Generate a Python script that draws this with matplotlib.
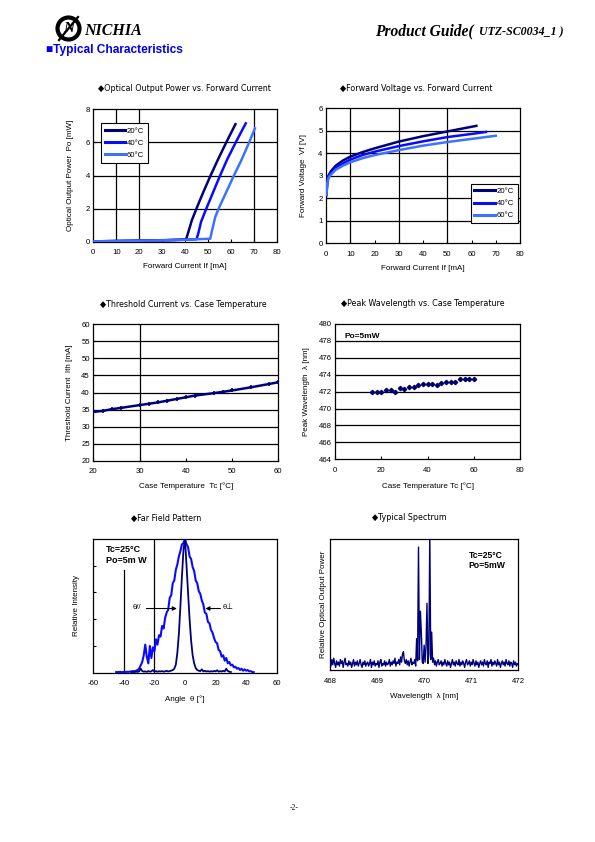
import numpy as np
import matplotlib
matplotlib.use("Agg")
import matplotlib.pyplot as plt
from matplotlib import font_manager as fm
from matplotlib.patches import Ellipse

plt.rcParams['font.family'] = ['Liberation Sans', 'DejaVu Sans']
plt.rcParams['axes.unicode_minus'] = False
condensed = any(f.name == 'DejaVu Sans' and f.stretch == 'condensed' for f in fm.fontManager.ttflist)
if condensed:
    TITLE_KW = dict(family='DejaVu Sans', stretch='condensed', fontsize=6.4)
else:
    TITLE_KW = dict(family=['Liberation Sans', 'DejaVu Sans'], fontsize=6.1)

# ---------------- data ----------------
temp_labels = ['20°C', '40°C', '60°C']
temp_colors = ['#00007a', '#0a0aff', '#3d72ff']

# Optical output power vs forward current
po_if_20 = [0, 10, 20, 30, 38, 40.5, 41.5, 43, 45, 48, 51, 54.5, 58, 62]
po_20 = [0.02, 0.04, 0.06, 0.09, 0.12, 0.15, 0.6, 1.3, 2.0, 3.0, 3.95, 5.0, 6.0, 7.1]
po_if_40 = [0, 10, 20, 30, 40, 45, 45.8, 47, 49, 52, 55, 58.5, 62.5, 66.5]
po_40 = [0.02, 0.04, 0.06, 0.08, 0.12, 0.15, 0.5, 1.2, 1.9, 2.9, 3.9, 5.0, 6.1, 7.15]
po_if_60 = [0, 10, 20, 30, 40, 51, 52, 53.2, 55, 58, 61, 64.5, 68, 70.5]
po_60 = [0.02, 0.04, 0.06, 0.08, 0.12, 0.18, 0.8, 1.5, 2.1, 3.0, 3.9, 4.9, 6.0, 6.85]

# Forward voltage vs forward current
vf_if_20 = [0.2, 0.5, 1, 2, 4, 7, 10, 15, 20, 30, 40, 50, 62]
vf_20 = [2.15, 2.7, 3.0, 3.2, 3.45, 3.68, 3.85, 4.05, 4.22, 4.52, 4.76, 4.97, 5.22]
vf_if_40 = [0.2, 0.5, 1, 2, 4, 7, 10, 15, 20, 30, 40, 50, 60, 66]
vf_40 = [2.15, 2.7, 2.95, 3.12, 3.35, 3.55, 3.72, 3.92, 4.07, 4.32, 4.53, 4.72, 4.86, 4.95]
vf_if_60 = [0.2, 0.5, 1, 2, 4, 7, 10, 15, 20, 30, 40, 50, 60, 70]
vf_60 = [2.15, 2.65, 2.9, 3.05, 3.27, 3.45, 3.6, 3.78, 3.92, 4.14, 4.34, 4.5, 4.64, 4.78]

# Threshold current vs case temperature
ith_tc = [20, 22, 24, 26, 30, 32, 34, 36, 38, 40, 42, 46, 48, 50, 54, 58, 60]
ith = [34.3, 34.6, 35.1, 35.5, 36.3, 36.7, 37.1, 37.6, 38.1, 38.6, 39.1, 39.8, 40.2, 40.6, 41.5, 42.5, 43.0]

# Peak wavelength vs case temperature
wl_tc = [16, 18, 20, 22, 24, 26, 28, 30, 32, 34, 36, 38, 40, 42, 44, 46, 48, 50, 52, 54, 56, 58, 60]
wl_peak = [471.9, 471.9, 471.9, 472.2, 472.2, 471.9, 472.4, 472.3, 472.5, 472.5, 472.75, 472.85,
           472.85, 472.85, 472.8, 473.0, 473.2, 473.2, 473.2, 473.45, 473.5, 473.55, 473.55]

# Far field pattern (1 degree steps)
ffp_perp_start = -45
ffp_perp = [0.005, 0.004, 0.006, 0.005, 0.004, 0.006, 0.005, 0.007, 0.006, 0.008,
            0.01, 0.012, 0.01, 0.015, 0.02, 0.03, 0.055, 0.08, 0.13, 0.21,
            0.12, 0.07, 0.2, 0.11, 0.19, 0.16, 0.25, 0.21, 0.28, 0.27,
            0.35, 0.33, 0.41, 0.45, 0.47, 0.56, 0.58, 0.67, 0.69, 0.77,
            0.81, 0.87, 0.91, 0.96, 0.97, 1.0, 0.96, 0.94, 0.87, 0.85,
            0.79, 0.76, 0.69, 0.67, 0.61, 0.59, 0.54, 0.51, 0.45, 0.44,
            0.38, 0.37, 0.32, 0.3, 0.26, 0.23, 0.22, 0.17, 0.16, 0.12,
            0.13, 0.09, 0.11, 0.07, 0.08, 0.055, 0.06, 0.04, 0.045, 0.03,
            0.035, 0.02, 0.03, 0.015, 0.025, 0.015, 0.02, 0.01, 0.012, 0.005, 0.004]
ffp_par_start = -35
ffp_par = [0.004, 0.006, 0.005, 0.008, 0.006, 0.01, 0.03, 0.012, 0.008, 0.01,
           0.006, 0.012, 0.008, 0.01, 0.02, 0.009, 0.012, 0.007, 0.011, 0.009,
           0.012, 0.008, 0.01, 0.014, 0.009, 0.012, 0.015, 0.02, 0.03, 0.06,
           0.15, 0.29, 0.5, 0.72, 0.92, 1.0, 0.8, 0.6, 0.4, 0.24,
           0.13, 0.07, 0.035, 0.02, 0.015, 0.012, 0.025, 0.01, 0.014, 0.009,
           0.012, 0.008, 0.011, 0.009, 0.013, 0.01, 0.018, 0.008, 0.012, 0.009,
           0.014, 0.01, 0.03, 0.012, 0.008, 0.005]

# Typical spectrum (0.02 nm steps from 468 nm)
spec_start, spec_step = 468.0, 0.02
spec_i = [0.06, 0.03, 0.08, 0.04, 0.09, 0.05, 0.02, 0.07, 0.04, 0.06, 0.03, 0.08, 0.05, 0.07, 0.02, 0.06, 0.09, 0.04, 0.05, 0.03,
          0.07, 0.04, 0.06, 0.02, 0.05, 0.08, 0.03, 0.06, 0.04, 0.07, 0.03, 0.05, 0.08, 0.04, 0.02, 0.06, 0.04, 0.07, 0.03, 0.05,
          0.06, 0.03, 0.05, 0.08, 0.02, 0.06, 0.04, 0.07, 0.03, 0.05, 0.04, 0.07, 0.02, 0.06, 0.08, 0.03, 0.05, 0.04, 0.07, 0.03,
          0.06, 0.04, 0.05, 0.08, 0.03, 0.06, 0.04, 0.07, 0.05, 0.09, 0.03, 0.06, 0.05, 0.08, 0.04, 0.10, 0.06, 0.12, 0.14, 0.07,
          0.05, 0.08, 0.04, 0.07, 0.03, 0.06, 0.09, 0.04, 0.06, 0.05, 0.08, 0.03, 0.24, 0.07, 0.94, 0.08, 0.45, 0.29, 0.06, 0.05,
          0.19, 0.06, 0.18, 0.51, 0.05, 0.12, 1.05, 0.08, 0.29, 0.06, 0.09, 0.04, 0.07, 0.03, 0.06, 0.08, 0.04, 0.05, 0.07, 0.03,
          0.06, 0.04, 0.08, 0.05, 0.03, 0.07, 0.04, 0.06, 0.02, 0.05, 0.08, 0.04, 0.06, 0.03, 0.07, 0.05, 0.04, 0.08, 0.03, 0.06,
          0.04, 0.07, 0.05, 0.02, 0.06, 0.08, 0.04, 0.05, 0.07, 0.03, 0.06, 0.04, 0.08, 0.05, 0.03, 0.07, 0.04, 0.06, 0.02, 0.05,
          0.07, 0.04, 0.06, 0.03, 0.08, 0.05, 0.04, 0.07, 0.02, 0.06, 0.05, 0.08, 0.03, 0.06, 0.04, 0.07, 0.05, 0.03, 0.08, 0.04,
          0.06, 0.02, 0.05, 0.07, 0.04, 0.06, 0.03, 0.08, 0.05, 0.04, 0.07, 0.03, 0.06, 0.05, 0.02, 0.07, 0.04, 0.06, 0.03, 0.05,
          0.04]

# ---------------- figure ----------------
W, H = 595, 842
fig = plt.figure(figsize=(W / 100, H / 100), dpi=100)
NAVY = '#00007a'


def box(l, t, r, b):
    return fig.add_axes([l / W, 1 - b / H, (r - l) / W, (b - t) / H])


def ftext(x, y, s, **kw):
    fig.text(x / W, 1 - y / H, s, **kw)


def style(ax, xpad=5.5, ypad=2.5):
    for s in ax.spines.values():
        s.set_linewidth(0.9)
        s.set_color('black')
    ax.tick_params(direction='in', length=2.5, width=0.8, labelsize=5.6)
    ax.tick_params(axis='x', pad=xpad)
    ax.tick_params(axis='y', pad=ypad)


def title(x, y, s):
    ftext(x, y, '◆' + s, ha='center', va='center', **TITLE_KW)


def legend(ax, **kw):
    leg = ax.legend(borderaxespad=0, fontsize=5.6, handlelength=2.6, handletextpad=0.25,
                    labelspacing=0.6, borderpad=0.5, fancybox=False, framealpha=1,
                    edgecolor='black', **kw)
    leg.get_frame().set_linewidth(0.8)
    for h in leg.get_lines():
        h.set_linewidth(2.2)


GRID = dict(color='black', lw=0.9, zorder=1)

# header
logo = Ellipse((68.5 / W, 1 - 28.5 / H), 22 / W, 22 / H, transform=fig.transFigure,
               fill=False, lw=3.0, edgecolor='black')
fig.add_artist(logo)
ftext(68.5, 29, 'N', ha='center', va='center', fontsize=11, fontweight='bold',
      style='italic', family='Liberation Serif')
fig.add_artist(plt.Line2D([59 / W, 78 / W], [1 - 40 / H, 1 - 17 / H], color='black', lw=1.6))
ftext(84, 31, 'NICHIA', ha='left', va='center', fontsize=11.5, fontweight='bold',
      style='italic', family='Liberation Serif')
ftext(375, 31, 'Product Guide(', ha='left', va='center', fontsize=11.2, fontweight='bold',
      style='italic', family='Liberation Serif')
ftext(479, 32, 'UTZ-SC0034_1 )', ha='left', va='center', fontsize=8.6, fontweight='bold',
      style='italic', family='Liberation Serif')
ftext(46, 50, '■Typical Characteristics', ha='left', va='center', fontsize=8.6,
      fontweight='bold', color='#0000ee', family=['Liberation Sans', 'DejaVu Sans'])
ftext(294, 808, '-2-', ha='center', va='center', fontsize=5.5, family='Liberation Serif')

# panel 1: optical output power
ax = box(93.3, 109.3, 276.7, 241.7)
style(ax)
for xg in [10, 20, 70]:
    ax.axvline(xg, **GRID)
for yg in [2, 4, 6]:
    ax.axhline(yg, **GRID)
for xs, ys, lab, c in zip([po_if_20, po_if_40, po_if_60], [po_20, po_40, po_60], temp_labels, temp_colors):
    ax.plot(xs, ys, color=c, lw=1.8, label=lab, zorder=3)
ax.set_xlim(0, 80)
ax.set_ylim(0, 8)
ax.set_xticks(range(0, 81, 10))
ax.set_yticks(range(0, 9, 2))
legend(ax, loc='upper left', bbox_to_anchor=(0.042, 0.894))
ax.set_xlabel('Forward Current If [mA]', fontsize=5.8, labelpad=5)
ax.set_ylabel('Optical Output Power  Po [mW]', fontsize=5.8, labelpad=8)
title(184, 88.5, 'Optical Output Power vs. Forward Current')

# panel 2: forward voltage
ax = box(326, 108.3, 520, 243.3)
style(ax)
for xg in [10, 30, 50]:
    ax.axvline(xg, **GRID)
for yg in [1, 2, 3, 4, 5]:
    ax.axhline(yg, **GRID)
for xs, ys, lab, c in zip([vf_if_20, vf_if_40, vf_if_60], [vf_20, vf_40, vf_60], temp_labels, temp_colors):
    ax.plot(xs, ys, color=c, lw=1.8, label=lab, zorder=3)
ax.set_xlim(0, 80)
ax.set_ylim(0, 6)
ax.set_xticks(range(0, 81, 10))
ax.set_yticks(range(0, 7))
legend(ax, loc='lower left', bbox_to_anchor=(0.745, 0.148))
ax.set_xlabel('Forward Current If [mA]', fontsize=5.8, labelpad=5)
ax.set_ylabel('Forward Voltage  Vf [V]', fontsize=5.8, labelpad=8)
title(416, 88.5, 'Forward Voltage vs. Forward Current')

# panel 3: threshold current
ax = box(93.3, 324.3, 278.3, 460.7)
style(ax)
ax.axvline(30, **GRID)
for yg in range(25, 60, 5):
    ax.axhline(yg, **GRID)
ax.plot(ith_tc, ith, color=NAVY, lw=1.8, marker='+', ms=3.2, mew=1.2, zorder=3)
ax.set_xlim(20, 60)
ax.set_ylim(20, 60)
ax.set_xticks(range(20, 61, 10))
ax.set_yticks(range(20, 61, 5))
ax.set_xlabel('Case Temperature  Tc [°C]', fontsize=5.8, labelpad=5)
ax.set_ylabel('Threshold Current  Ith [mA]', fontsize=5.8, labelpad=6)
title(183, 304.5, 'Threshold Current vs. Case Temperature')

# panel 4: peak wavelength
ax = box(335, 324, 520, 459.3)
style(ax)
for yg in range(466, 480, 2):
    ax.axhline(yg, **GRID)
ax.plot(wl_tc, wl_peak, ls='none', marker='D', ms=2.2, color='#00006a', zorder=3)
ax.set_xlim(0, 80)
ax.set_ylim(464, 480)
ax.set_xticks(range(0, 81, 20))
ax.set_yticks(range(464, 481, 2))
ax.text(0.05, 0.91, 'Po=5mW', transform=ax.transAxes, fontsize=6, fontweight='bold', va='center')
ax.set_xlabel('Case Temperature Tc [°C]', fontsize=5.8, labelpad=6)
ax.set_ylabel('Peak Wavelength  λ [nm]', fontsize=5.8, labelpad=6)
title(423, 303.5, 'Peak Wavelength vs. Case Temperature')

# panel 5: far field pattern
ax = box(93.3, 539, 276.7, 672.7)
style(ax)
ax.axvline(-40, ymax=0.77, **GRID)
ax.axvline(-20, **GRID)
th_perp = ffp_perp_start + np.arange(len(ffp_perp))
th_par = ffp_par_start + np.arange(len(ffp_par))
ax.plot(th_perp, ffp_perp, color='#0a0aff', lw=1.5, zorder=3)
ax.plot(th_par, ffp_par, color=NAVY, lw=1.3, zorder=4)
ax.set_xlim(-60, 60)
ax.set_ylim(0, 1.0)
ax.set_xticks(range(-60, 61, 20))
ax.set_yticks([0.2, 0.4, 0.6, 0.8])
ax.set_yticklabels([])
ax.tick_params(axis='x', length=0)
ax.annotate('', xy=(-3.5, 0.48), xytext=(-27, 0.48),
            arrowprops=dict(arrowstyle='-|>', color='black', lw=0.8, mutation_scale=6), zorder=5)
ax.annotate('', xy=(11.5, 0.48), xytext=(25, 0.48),
            arrowprops=dict(arrowstyle='-|>', color='black', lw=0.8, mutation_scale=6), zorder=5)
ax.text(-31.5, 0.49, 'θ//', fontsize=5.5, ha='center', va='center')
ax.text(28.5, 0.49, 'θ⊥', fontsize=5.5, ha='center', va='center')
ax.text(-52, 0.88, 'Tc=25°C\nPo=5m W', fontsize=6.5, fontweight='bold', va='center',
        linespacing=1.3, zorder=6)
ax.set_xlabel('Angle  θ [°]', fontsize=5.8, labelpad=6)
ax.set_ylabel('Relative Intensity', fontsize=5.8, labelpad=7)
title(166, 518.5, 'Far Field Pattern')

# panel 6: typical spectrum
ax = box(330, 539.3, 518.3, 670)
style(ax)
wl = spec_start + spec_step * np.arange(len(spec_i))
ax.plot(wl, spec_i, color=NAVY, lw=1.0, zorder=3)
ax.set_xlim(468, 472)
ax.set_ylim(0, 1.0)
ax.set_xticks(range(468, 473))
ax.set_yticks([])
ax.tick_params(axis='x', length=0)
ax.text(0.735, 0.84, 'Tc=25°C\nPo=5mW', transform=ax.transAxes, fontsize=6.2, fontweight='bold',
        va='center', linespacing=1.2)
ax.set_xlabel('Wavelength  λ [nm]', fontsize=5.8, labelpad=6)
ax.set_ylabel('Relative Optical Output Power', fontsize=5.8, labelpad=2)
title(409, 518, 'Typical Spectrum')

fig.savefig('out.png', dpi=100)
